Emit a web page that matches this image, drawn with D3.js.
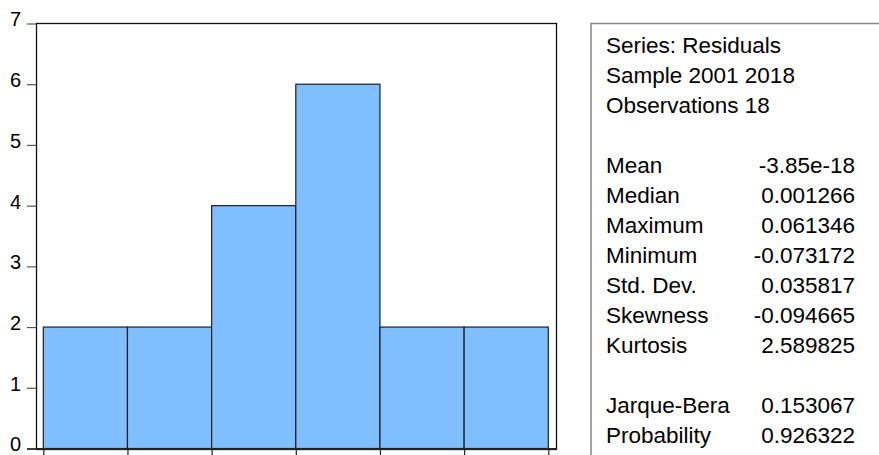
<!DOCTYPE html>
<html>
<head>
<meta charset="utf-8">
<script src="https://cdn.jsdelivr.net/npm/d3@7"></script>
<style>
  html, body { margin: 0; padding: 0; background: #fff; }
  svg { display: block; }
  text { font-family: Arial, "Liberation Sans", sans-serif; fill: #000; }
</style>
</head>
<body>
<svg id="chart" width="879" height="455"></svg>
<script>
// Histogram of residuals: bin edges and counts
const binEdges = [-0.075, -0.05, -0.025, 0, 0.025, 0.05, 0.075];
const binCounts = [2, 2, 4, 6, 2, 2];
const yTicks = [0, 1, 2, 3, 4, 5, 6, 7];

// Descriptive statistics panel
const headerLines = ["Series: Residuals", "Sample 2001 2018", "Observations 18"];
const statNames = ["Mean", "Median", "Maximum", "Minimum", "Std. Dev.", "Skewness", "Kurtosis"];
const statValues = ["-3.85e-18", "0.001266", "0.061346", "-0.073172", "0.035817", "-0.094665", "2.589825"];
const testNames = ["Jarque-Bera", "Probability"];
const testValues = ["0.153067", "0.926322"];

const svg = d3.select("#chart");

// plot frame
const frame = { left: 36, right: 556, top: 23, bottom: 449 };

const x = d3.scaleLinear()
  .domain([binEdges[0], binEdges[binEdges.length - 1]])
  .range([43.3, 548.3]);
const y = d3.scaleLinear()
  .domain([0, 7])
  .range([448.5, 23.5]);

const bins = binCounts.map((c, i) => ({ x0: binEdges[i], x1: binEdges[i + 1], count: c }));

// bars
svg.append("g")
  .selectAll("rect")
  .data(bins)
  .join("rect")
  .attr("x", d => x(d.x0))
  .attr("y", d => y(d.count))
  .attr("width", d => x(d.x1) - x(d.x0))
  .attr("height", d => y(0) - y(d.count))
  .attr("fill", "#80bfff")
  .attr("stroke", "#1c1f26")
  .attr("stroke-width", 1.2);

// frame box
svg.append("rect")
  .attr("x", frame.left + 0.5)
  .attr("y", frame.top + 0.5)
  .attr("width", frame.right - frame.left)
  .attr("height", frame.bottom - frame.top)
  .attr("fill", "none")
  .attr("stroke", "#111")
  .attr("stroke-width", 1.3);

// bottom axis line, slightly heavier
svg.append("line")
  .attr("x1", 27).attr("x2", frame.right + 0.5)
  .attr("y1", frame.bottom).attr("y2", frame.bottom)
  .attr("stroke", "#222").attr("stroke-width", 2);

// y axis
const yAxis = svg.append("g")
  .attr("transform", `translate(${frame.left},0)`)
  .call(d3.axisLeft(y).tickValues(yTicks).tickSize(9).tickPadding(0).tickFormat(d3.format("d")));
yAxis.select(".domain").remove();
yAxis.selectAll(".tick line").attr("stroke", "#555").attr("stroke-width", 1.2);
yAxis.selectAll(".tick text")
  .attr("x", -15)
  .attr("dy", "0.12em")
  .attr("text-anchor", "end")
  .attr("fill", "#000")
  .style("font-size", "20px")
  .style("font-family", "Arial, 'Liberation Sans', sans-serif");

// x axis ticks at bin edges
const xAxis = svg.append("g")
  .attr("transform", `translate(0,${frame.bottom})`)
  .call(d3.axisBottom(x).tickValues(binEdges).tickSize(8).tickFormat(""));
xAxis.select(".domain").remove();
xAxis.selectAll(".tick line").attr("stroke", "#222").attr("stroke-width", 1.2);

// statistics panel
const panel = svg.append("g");
panel.append("rect")
  .attr("x", 591).attr("y", 23.5)
  .attr("width", 320).attr("height", 460)
  .attr("fill", "#fff")
  .attr("stroke", "#888")
  .attr("stroke-width", 1.5);

const lineH = 30, base = 53, textX = 606, valX = 855;
const rows = [];
headerLines.forEach((t, i) => rows.push({ label: t, value: "", row: i }));
statNames.forEach((t, i) => rows.push({ label: t, value: statValues[i], row: 4 + i }));
testNames.forEach((t, i) => rows.push({ label: t, value: testValues[i], row: 12 + i }));

const rowG = panel.selectAll("g.row").data(rows).join("g")
  .attr("class", "row")
  .attr("transform", d => `translate(0,${base + d.row * lineH})`);
rowG.append("text")
  .attr("x", textX)
  .style("font-size", "22.5px")
  .text(d => d.label);
rowG.append("text")
  .attr("x", valX)
  .attr("text-anchor", "end")
  .style("font-size", "22.5px")
  .text(d => d.value);
</script>
</body>
</html>
